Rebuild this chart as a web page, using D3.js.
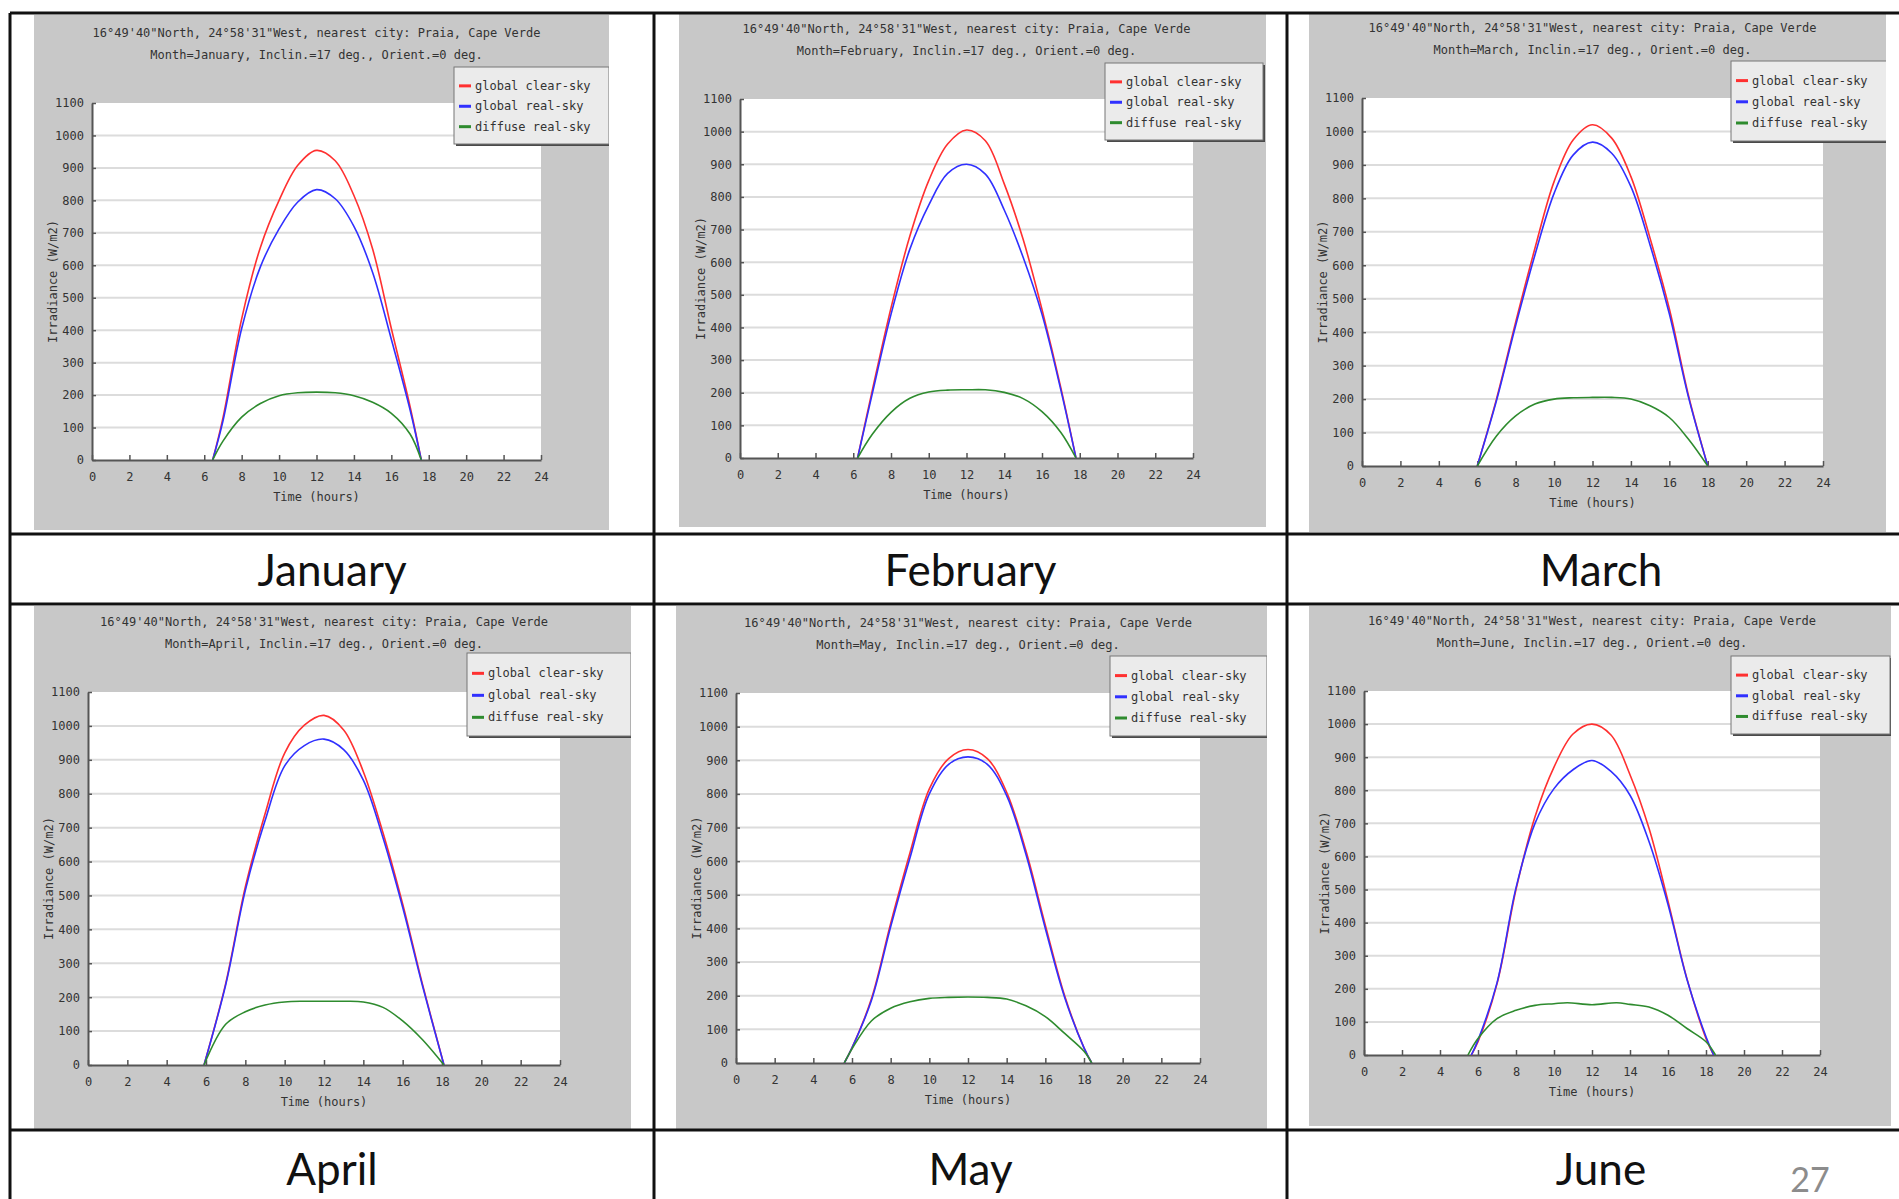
<!DOCTYPE html>
<html>
<head>
<meta charset="utf-8">
<script src="https://cdn.jsdelivr.net/npm/d3@7"></script>
<style>
  body { margin: 0; background: #fff; }
  svg { display: block; }
</style>
</head>
<body>
<svg id="chart" width="1899" height="1199"></svg>
<script>
// [hour, W/m2]
const janClear   = [[6.45,0],[7,130],[8,435],[9,655],[10,800],[11,908],[12,954],[13,922],[14,815],[15,650],[16,405],[17,165],[17.6,0]];
const janReal    = [[6.45,0],[7,120],[8,405],[9,595],[10,712],[11,795],[12,833],[13,805],[14,720],[15,578],[16,372],[17,155],[17.6,0]];
const janDiffuse = [[6.45,0],[7,58],[8,132],[9,174],[10,198],[11,207],[12,209],[13,207],[14,198],[15,178],[16,144],[17,80],[17.6,0]];

const febClear   = [[6.23,0],[7,205],[8,460],[9,680],[10,850],[11,962],[12,1005],[13,972],[14,840],[15,670],[16,455],[17,215],[17.8,0]];
const febReal    = [[6.23,0],[7,195],[8,440],[9,640],[10,775],[11,872],[12,900],[13,870],[14,760],[15,615],[16,440],[17,208],[17.8,0]];
const febDiffuse = [[6.23,0],[7,72],[8,140],[9,183],[10,202],[11,208],[12,209],[13,209],[14,201],[15,182],[16,142],[17,78],[17.8,0]];

const marClear   = [[6,0],[7,200],[8,430],[9,650],[10,850],[11,975],[12,1020],[13,980],[14,865],[15,680],[16,470],[17,210],[18,0]];
const marReal    = [[6,0],[7,195],[8,420],[9,630],[10,815],[11,930],[12,968],[13,935],[14,835],[15,660],[16,455],[17,205],[18,0]];
const marDiffuse = [[6,0],[7,90],[8,150],[9,185],[10,200],[11,204],[12,205],[13,205],[14,200],[15,180],[16,145],[17,80],[18,0]];

const aprClear   = [[5.9,0],[7,240],[8,525],[9,740],[10,920],[11,1002],[12,1031],[13,988],[14,865],[15,685],[16,475],[17,240],[18.1,0]];
const aprReal    = [[5.9,0],[7,236],[8,515],[9,720],[10,882],[11,942],[12,961],[13,930],[14,840],[15,670],[16,465],[17,235],[18.1,0]];
const aprDiffuse = [[5.9,0],[7,120],[8,157],[9,177],[10,186],[11,188],[12,188],[13,188],[14,186],[15,170],[16,130],[17,75],[18.1,0]];

const mayClear   = [[5.6,0],[6,45],[7,190],[8,415],[9,625],[10,815],[11,905],[12,932],[13,905],[14,805],[15,630],[16,410],[17,200],[18,45],[18.4,0]];
const mayReal    = [[5.6,0],[6,45],[7,185],[8,405],[9,610],[10,800],[11,888],[12,910],[13,888],[14,795],[15,620],[16,400],[17,195],[18,45],[18.4,0]];
const mayDiffuse = [[5.6,0],[6,42],[7,125],[8,163],[9,182],[10,192],[11,195],[12,196],[13,195],[14,190],[15,170],[16,138],[17,88],[18,35],[18.4,0]];

const junClear   = [[5.65,0],[6,40],[7,215],[8,500],[9,720],[10,870],[11,970],[12,1000],[13,967],[14,847],[15,685],[16,465],[17,230],[18,50],[18.4,0]];
const junReal    = [[5.65,0],[6,45],[7,218],[8,505],[9,700],[10,805],[11,862],[12,890],[13,857],[14,785],[15,645],[16,455],[17,228],[18,55],[18.4,0]];
const junDiffuse = [[5.47,0],[6,50],[7,110],[8,135],[9,150],[10,155],[10.7,158],[12,152],[13.3,158],[14,153],[15,145],[16,120],[17,80],[18,40],[18.5,0]];

const months = ["January", "February", "March", "April", "May", "June"];
const seriesNames = ["global clear-sky", "global real-sky", "diffuse real-sky"];
const seriesColors = ["#ff3030", "#3030ff", "#2e8b2e"];
const xTicks = d3.range(0, 25, 2);
const yTicks = d3.range(0, 1101, 100);
const titleLine1 = "16\u00b049'40\"North, 24\u00b058'31\"West, nearest city: Praia, Cape Verde";

const monthData = [
  [janClear, janReal, janDiffuse],
  [febClear, febReal, febDiffuse],
  [marClear, marReal, marDiffuse],
  [aprClear, aprReal, aprDiffuse],
  [mayClear, mayReal, mayDiffuse],
  [junClear, junReal, junDiffuse]
];

// where each screenshot sits on the slide: gray panel, plot box, legend box
const panels = [
  { bg: [34, 15, 609, 530],     plot: [92, 103, 541, 460],    legend: [454, 67, 155, 77] },
  { bg: [679, 13, 1266, 527],   plot: [740, 99, 1193, 458],   legend: [1105, 63, 158, 77] },
  { bg: [1309, 13, 1886, 532],  plot: [1362, 98, 1823, 466],  legend: [1731, 61, 156, 80] },
  { bg: [34, 606, 631, 1129],   plot: [88, 692, 560, 1065],   legend: [467, 653, 164, 83] },
  { bg: [676, 606, 1267, 1129], plot: [736, 693, 1200, 1063], legend: [1110, 656, 157, 80] },
  { bg: [1309, 606, 1891, 1126],plot: [1364, 691, 1820, 1055],legend: [1731, 656, 159, 78] }
];

const colEdges = [10, 654, 1287, 1915];
const rowLines = [13, 534, 604, 1130];
const labelBaselines = [586, 1185];

const svg = d3.select("#chart");
const monoFont = "'DejaVu Sans Mono', 'Liberation Mono', monospace";

svg.append("rect").attr("width", 1899).attr("height", 1199).attr("fill", "#fff");

panels.forEach((p, i) => {
  const [bx0, by0, bx1, by1] = p.bg;
  const [px0, py0, px1, py1] = p.plot;
  const g = svg.append("g");

  const clipId = "clip" + i;
  svg.append("clipPath").attr("id", clipId)
    .append("rect").attr("x", bx0).attr("y", by0).attr("width", bx1 - bx0).attr("height", by1 - by0);

  g.append("rect")
    .attr("x", bx0).attr("y", by0)
    .attr("width", bx1 - bx0).attr("height", by1 - by0)
    .attr("fill", "#c8c8c8");

  const x = d3.scaleLinear().domain([0, 24]).range([px0, px1]);
  const y = d3.scaleLinear().domain([0, 1100]).range([py1, py0]);

  g.append("rect")
    .attr("x", px0).attr("y", py0)
    .attr("width", px1 - px0).attr("height", py1 - py0)
    .attr("fill", "#fff");

  // grid
  g.selectAll(".grid").data(yTicks.filter(v => v > 0 && v < 1100)).enter()
    .append("line")
    .attr("x1", px0).attr("x2", px1)
    .attr("y1", d => y(d)).attr("y2", d => y(d))
    .attr("stroke", "#dcdcdc").attr("stroke-width", 2);

  // titles
  const cx = (px0 + px1) / 2;
  g.append("text").attr("x", cx).attr("y", py0 - 66)
    .attr("text-anchor", "middle").attr("font-family", monoFont).attr("font-size", 12)
    .attr("fill", "#333").text(titleLine1);
  g.append("text").attr("x", cx).attr("y", py0 - 44)
    .attr("text-anchor", "middle").attr("font-family", monoFont).attr("font-size", 12)
    .attr("fill", "#333")
    .text("Month=" + months[i] + ", Inclin.=17 deg., Orient.=0 deg.");

  // axes
  const xAxis = d3.axisBottom(x).tickValues(xTicks).tickSizeInner(-5).tickSizeOuter(0).tickPadding(12);
  const yAxis = d3.axisLeft(y).tickValues(yTicks).tickFormat(d3.format("d"))
    .tickSizeInner(-4).tickSizeOuter(0).tickPadding(8);

  const gx = g.append("g").attr("transform", `translate(0,${py1})`).call(xAxis);
  const gy = g.append("g").attr("transform", `translate(${px0},0)`).call(yAxis);
  [gx, gy].forEach(a => {
    a.select(".domain").attr("stroke", "#555").attr("stroke-width", 2);
    a.selectAll(".tick line").attr("stroke", "#555").attr("stroke-width", 1.5);
    a.selectAll(".tick text").attr("font-family", monoFont).attr("font-size", 12).attr("fill", "#333");
  });

  g.append("text").attr("x", cx).attr("y", py1 + 41)
    .attr("text-anchor", "middle").attr("font-family", monoFont).attr("font-size", 12)
    .attr("fill", "#333").text("Time (hours)");
  g.append("text")
    .attr("transform", `translate(${px0 - 35},${(py0 + py1) / 2}) rotate(-90)`)
    .attr("text-anchor", "middle").attr("font-family", monoFont).attr("font-size", 12)
    .attr("fill", "#333").text("Irradiance (W/m2)");

  // curves
  const line = d3.line().x(d => x(d[0])).y(d => y(Math.max(0, d[1])))
    .curve(d3.curveCatmullRom.alpha(0.5));
  monthData[i].forEach((s, k) => {
    g.append("path").datum(s)
      .attr("d", line)
      .attr("fill", "none")
      .attr("stroke", seriesColors[k])
      .attr("stroke-width", 1.6);
  });

  // legend
  const [lx, ly, lw, lh] = p.legend;
  const lg = g.append("g").attr("clip-path", `url(#${clipId})`);
  lg.append("rect").attr("x", lx + 2).attr("y", ly + 2).attr("width", lw).attr("height", lh).attr("fill", "#4a4a4a");
  lg.append("rect").attr("x", lx).attr("y", ly).attr("width", lw).attr("height", lh)
    .attr("fill", "#ebebeb").attr("stroke", "#777").attr("stroke-width", 1);
  seriesNames.forEach((name, k) => {
    const yy = ly + lh * 0.245 + k * lh * 0.265;
    lg.append("line").attr("x1", lx + 5).attr("x2", lx + 17).attr("y1", yy).attr("y2", yy)
      .attr("stroke", seriesColors[k]).attr("stroke-width", 3);
    lg.append("text").attr("x", lx + 21).attr("y", yy + 4)
      .attr("font-family", monoFont).attr("font-size", 12).attr("fill", "#333").text(name);
  });
});

// slide table
const grid = svg.append("g").attr("stroke", "#111").attr("stroke-width", 3);
colEdges.forEach(cx => {
  grid.append("line").attr("x1", cx).attr("x2", cx).attr("y1", rowLines[0]).attr("y2", 1199);
});
rowLines.forEach(ry => {
  grid.append("line").attr("x1", colEdges[0]).attr("x2", 1899).attr("y1", ry).attr("y2", ry);
});

months.forEach((m, i) => {
  const col = i % 3, row = Math.floor(i / 3);
  svg.append("text")
    .attr("x", (colEdges[col] + colEdges[col + 1]) / 2)
    .attr("y", labelBaselines[row])
    .attr("text-anchor", "middle")
    .attr("font-family", "Lato, 'Open Sans', sans-serif")
    .attr("font-size", 44)
    .attr("fill", "#111")
    .text(m);
});

svg.append("text").attr("x", 1810).attr("y", 1192)
  .attr("text-anchor", "middle").attr("font-family", "Lato, 'Open Sans', sans-serif")
  .attr("font-size", 34).attr("fill", "#8c8c8c").text("27");
</script>
</body>
</html>
